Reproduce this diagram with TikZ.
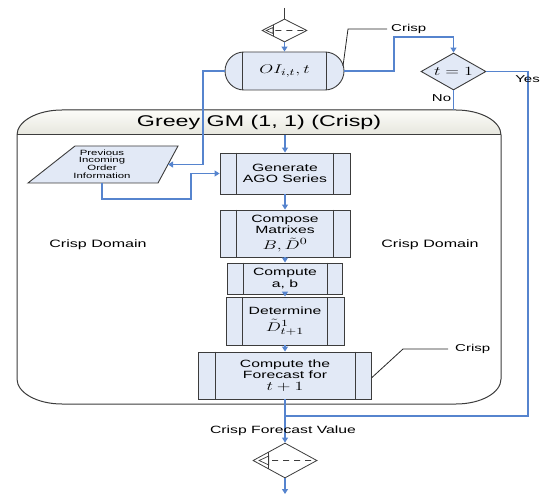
\documentclass[tikz,border=0pt]{standalone}
\usepackage{fontspec}
\usepackage{graphicx}
\usetikzlibrary{shapes.geometric,arrows.meta,calc}
\newfontfamily\lab[FakeStretch=1.5]{Liberation Sans}
\newcommand{\wm}[1]{\scalebox{1.5}[1.05]{\fontsize{12.5}{12.5}\selectfont$#1$}}
\definecolor{boxfill}{RGB}{226,233,246}
\definecolor{edge}{RGB}{60,60,60}
\definecolor{flow}{RGB}{86,132,206}
\definecolor{hdtop}{RGB}{252,252,248}
\definecolor{hdbot}{RGB}{230,230,222}

\tikzset{
  proc/.style={draw=edge, fill=boxfill, line width=0.9pt, inner sep=0pt, align=center,
    font=\lab\fontsize{10.5}{11.5}\selectfont},
  flowline/.style={draw=flow, line width=1.1pt},
  flowarrow/.style={flowline, -{Triangle[width=6pt,length=5pt]}},
  callout/.style={draw=black!85, line width=0.8pt},
  lbl/.style={font=\lab\fontsize{10}{11}\selectfont, inner sep=0pt},
  junction/.style={shape=diamond, draw=edge, fill=white, line width=0.8pt, inner sep=0pt},
  markline/.style={draw=edge, line width=0.7pt},
}

% vertical bars of a predefined-process box
\newcommand{\sidebars}[2]{%
  \draw[draw=edge, line width=0.9pt]
    ([xshift=#2]#1.north west) -- ([xshift=#2]#1.south west)
    ([xshift=-#2]#1.north east) -- ([xshift=-#2]#1.south east);}

% off-page reference mark inside a junction diamond
\newcommand{\junctionmark}[1]{%
  \coordinate (#1a) at ($(#1.west)!.5!(#1.north)$);
  \coordinate (#1b) at ($(#1.west)!.5!(#1.south)$);
  \draw[markline] (#1a) -- (#1b);
  \draw[markline] ($(#1.west)!.1!(#1.east)$) -- ($(#1a)!.25!(#1b)$) -- ($(#1a)!.75!(#1b)$) -- cycle;
  \draw[markline, line width=0.8pt, dash pattern=on 6pt off 5pt] ($(#1.west)!.3!(#1.east)$) -- (#1.east);}

\begin{document}
\begin{tikzpicture}[x=1pt, y=-1pt]
\useasboundingbox (0,0) rectangle (545,494);

% ---- container with header ----
\fill[top color=hdtop, bottom color=hdbot]
  (17,135) .. controls (17,121.2) and (37.2,110) .. (62,110) -- (456,110)
  .. controls (480.8,110) and (501,121.2) .. (501,135) -- cycle;
\draw[edge, line width=1pt]
  (17,135) .. controls (17,121.2) and (37.2,110) .. (62,110) -- (456,110)
  .. controls (480.8,110) and (501,121.2) .. (501,135) -- (501,379)
  .. controls (501,392.8) and (480.8,404) .. (456,404) -- (62,404)
  .. controls (37.2,404) and (17,392.8) .. (17,379) -- cycle;
\draw[edge, line width=1pt] (17,135) -- (501,135);
\node[font=\lab\fontsize{15.5}{16}\selectfont, inner sep=0pt] (hdr) at (259,122) {Greey GM (1, 1) (Crisp)};

\node[font=\lab\fontsize{10.7}{12}\selectfont, inner sep=0pt] (domL) at (98,245) {Crisp Domain};
\node[font=\lab\fontsize{10.7}{12}\selectfont, inner sep=0pt] (domR) at (430,245) {Crisp Domain};

% ---- junctions ----
\node[junction, minimum width=45pt, minimum height=23pt] (d1) at (284.5,30.5) {};
\junctionmark{d1}
\node[junction, minimum width=64pt, minimum height=35pt] (d2) at (285,460.5) {};
\junctionmark{d2}

% ---- storage capsule ----
\node[proc, rounded corners=19pt, minimum width=119pt, minimum height=38pt] (cap) at (284.5,71)
  {\wm{OI_{i,t},t}};
\sidebars{cap}{18pt}

% ---- decision ----
\node[shape=diamond, shape aspect=1.75, draw=edge, fill=boxfill, line width=0.9pt,
  minimum width=65pt, minimum height=37pt, inner sep=0pt] (dt) at (453.5,71.5)
  {\wm{t=1}};

% ---- data input ----
\draw[edge, fill=boxfill, line width=0.9pt] (75,146) -- (178,146) -- (158,183) -- (28,183) -- cycle;
\node[align=center, inner sep=0pt, font=\lab\fontsize{7.6}{7.6}\selectfont] (pio) at (102,164)
  {Previous\\Incoming\\Order\\Information};
\coordinate (pioE) at (168,164.5);
\coordinate (pioS) at (102,183);

% ---- process chain ----
\node[proc, minimum width=130pt, minimum height=41pt] (gen) at (285,173.5) {Generate\\AGO Series};
\sidebars{gen}{17pt}
\node[proc, minimum width=130pt, minimum height=47pt] (comp) at (285,233.5)
  {Compose\\Matrixes\\[3pt]\wm{B,\tilde{D}^{0}}};
\sidebars{comp}{17pt}
\node[proc, minimum width=115pt, minimum height=31pt] (ab) at (285,278.5) {Compute\\a, b};
\sidebars{ab}{16pt}
\node[proc, minimum width=118pt, minimum height=48pt] (det) at (285,321)
  {Determine\\[4pt]\wm{\tilde{D}^{1}_{t+1}}};
\sidebars{det}{17pt}
\node[proc, minimum width=173pt, minimum height=47pt] (fc) at (285,375.5)
  {Compute the\\Forecast for\\\wm{t+1}};
\sidebars{fc}{17pt}

% ---- connectors ----
\coordinate (entry) at (284.5,8);
\coordinate (lturn) at (203,120);
\coordinate (lowturn) at (191,199);
\coordinate (rturn) at (394,37);
\coordinate (noend) at (453.5,110);
\coordinate (yturn) at (528,416);
\coordinate (merge) at (285,416);
\coordinate (hdin) at (285,135);
\coordinate (exit) at (285,494);

\draw[edge, line width=0.8pt] (entry) -- (d1.north);
\draw[flowarrow] (d1.south) -- (cap.north);
\draw[flowarrow] (cap.west) -| (lturn) |- (pioE);
\draw[flowarrow] (pioS) |- (lowturn) |- (gen.west);
\draw[flowarrow] (cap.east) -| (rturn) -| (dt.north);
\draw[flowline] (dt.south) -- (noend);
\draw[flowline] (dt.east) -| (yturn) -- (merge);
\draw[flowarrow] (hdin) -- (gen.north);
\draw[flowarrow] (gen.south) -- (comp.north);
\draw[flowarrow] (comp.south) -- (ab.north);
\draw[flowarrow] (ab.south) -- (det.north);
\draw[flowarrow] (det.south) -- (fc.north);
\draw[flowarrow] (fc.south) -- (d2.north);
\draw[flowarrow] (d2.south) -- (exit);

\node[lbl] (no) at (441.5,98) {No};
\node[lbl] (yes) at (527.5,79) {Yes};
\node[lbl, font=\lab\fontsize{10.5}{12}\selectfont] (cfv) at (283,431) {Crisp Forecast Value};

% ---- callouts ----
\node[lbl, anchor=west] (crispA) at (391,29) {Crisp};
\coordinate (ct0) at (343,66);
\coordinate (ct1) at (348,29);
\draw[callout] (ct0) -- (ct1) -- ([xshift=-4pt]crispA.west);
\node[lbl, anchor=west] (crispB) at (455,349) {Crisp};
\coordinate (cb1) at (403,349);
\draw[callout] ([yshift=-2pt]fc.east) -- (cb1) -- ([xshift=-7pt]crispB.west);
\end{tikzpicture}
\end{document}
